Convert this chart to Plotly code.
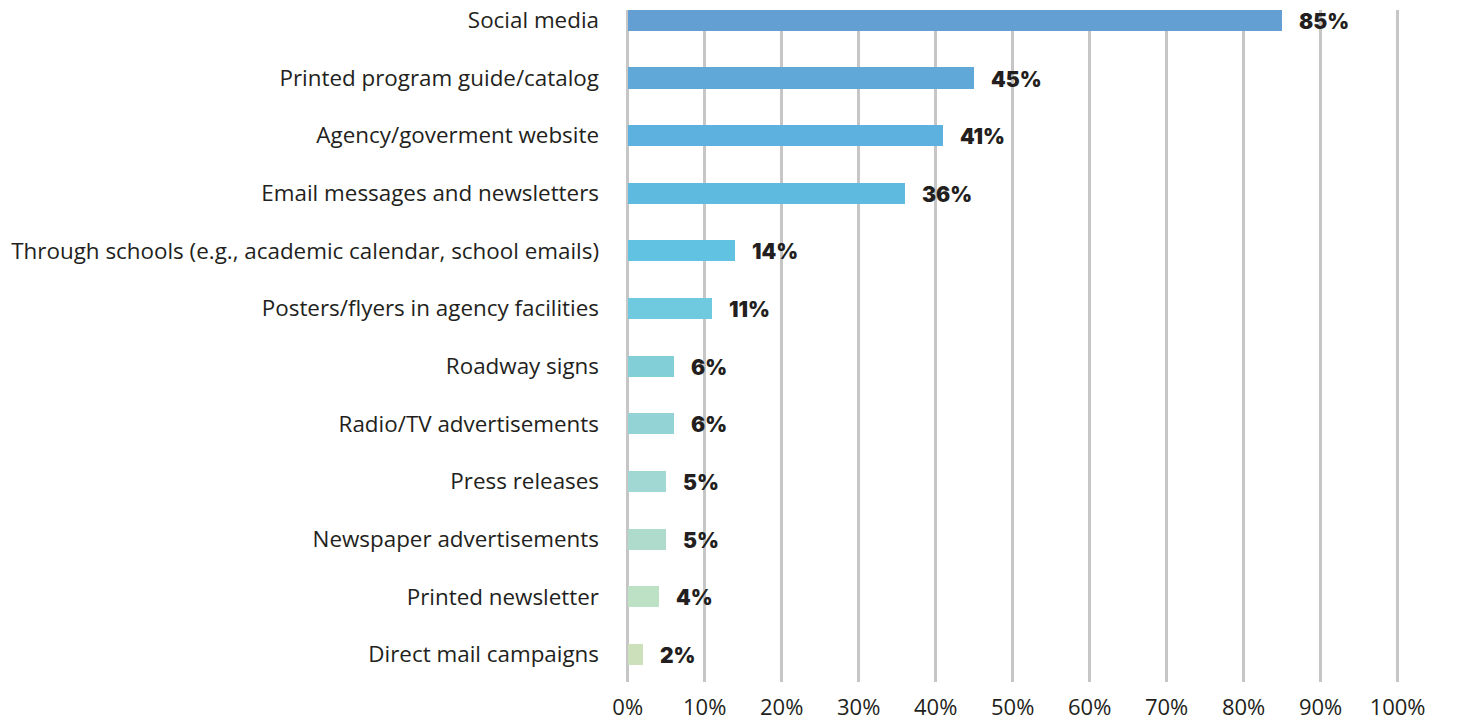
import plotly.graph_objects as go

# Survey channels, listed top to bottom
channels = [
    "Social media",
    "Printed program guide/catalog",
    "Agency/goverment website",
    "Email messages and newsletters",
    "Through schools (e.g., academic calendar, school emails)",
    "Posters/flyers in agency facilities",
    "Roadway signs",
    "Radio/TV advertisements",
    "Press releases",
    "Newspaper advertisements",
    "Printed newsletter",
    "Direct mail campaigns",
]
shares = [85, 45, 41, 36, 14, 11, 6, 6, 5, 5, 4, 2]
bar_colors = [
    "#639FD3", "#5FA8D8", "#5DB1DE", "#5EBADF", "#61C3E1", "#6FCADF",
    "#83CFD7", "#93D3D5", "#A1D8D3", "#AEDBCB", "#BDE1C5", "#CCE0BB",
]
tick_vals = [0, 10, 20, 30, 40, 50, 60, 70, 80, 90, 100]
tick_text = [f"{v}%" for v in tick_vals]

text_color = "#231F20"

fig = go.Figure(
    go.Bar(
        x=shares,
        y=channels,
        orientation="h",
        marker=dict(color=bar_colors, line=dict(width=0)),
        width=0.365,
        hoverinfo="skip",
    )
)

for ch, v in zip(channels, shares):
    fig.add_annotation(
        x=v, y=ch, text=f"{v}%", showarrow=False,
        xanchor="left", yanchor="middle", xshift=15, yshift=-1,
        font=dict(family="Inter", size=21, color=text_color, weight=900),
    )

fig.update_layout(
    width=1460, height=722,
    margin=dict(l=620, r=47, t=10, b=40),
    paper_bgcolor="white", plot_bgcolor="white",
    showlegend=False,
    bargap=0,
)
fig.update_xaxes(
    range=[-1, 102],
    tickvals=tick_vals, ticktext=tick_text,
    showgrid=True, gridcolor="#C6C6C6", gridwidth=3,
    zeroline=False, showline=False, ticks="",
    ticklabelstandoff=10, automargin=False,
    tickfont=dict(family="Open Sans", size=22, color=text_color),
)
fig.update_yaxes(
    type="category",
    categoryorder="array", categoryarray=channels,
    range=[11.48, -0.18],
    showgrid=False, zeroline=False, showline=False, ticks="",
    ticklabelstandoff=20, automargin=False,
    tickfont=dict(family="Open Sans", size=22.4, color=text_color),
)

fig.write_html("out.html")
